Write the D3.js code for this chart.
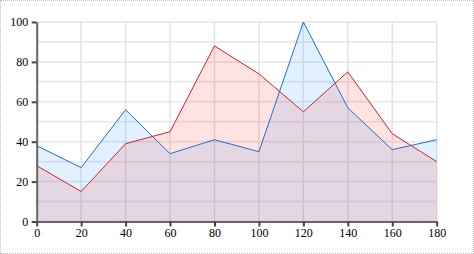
<!DOCTYPE html>
<html>
<head>
<meta charset="utf-8">
<script src="https://d3js.org/d3.v7.min.js"></script>
<style>
  body { margin: 0; background: #fff; }
  #chart { width: 472px; height: 252px; border: 1px dotted #bbb; }
  .tick text { font-family: "Liberation Serif", serif; font-size: 12px; fill: #000; }
</style>
</head>
<body>
<div id="chart"></div>
<script>
const xs = [0, 20, 40, 60, 80, 100, 120, 140, 160, 180]
const blue = [38, 27, 56, 34, 41, 35, 100, 57, 36, 41]
const red = [28, 15, 39, 45, 88, 74, 55, 75, 44, 30]
const yTicks = [0, 20, 40, 60, 80, 100]
const yGrid = [0, 10, 20, 30, 40, 50, 60, 70, 80, 90, 100]

const width = 472, height = 252
const svg = d3.select('#chart').append('svg')
    .attr('width', width)
    .attr('height', height)

const x = d3.scaleLinear().domain([0, 180]).range([35.7, 435.7])
const y = d3.scaleLinear().domain([0, 100]).range([220.5, 21])

// grid
svg.append('g').selectAll('line.h')
  .data(yGrid).enter().append('line')
    .attr('x1', x(0)).attr('x2', x(180))
    .attr('y1', d => y(d)).attr('y2', d => y(d))
    .attr('stroke', '#ebebeb').attr('stroke-width', 2)
svg.append('g').selectAll('line.v')
  .data(xs).enter().append('line')
    .attr('x1', d => x(d)).attr('x2', d => x(d))
    .attr('y1', y(0)).attr('y2', y(100))
    .attr('stroke', '#e2e2e2').attr('stroke-width', 1.5)

const pts = vals => vals.map((v, i) => [xs[i], v])
const area = d3.area().x(d => x(d[0])).y0(y(0)).y1(d => y(d[1]))
const line = d3.line().x(d => x(d[0])).y(d => y(d[1]))

const series = [
  { vals: blue, fill: 'rgba(30,144,255,0.13)', stroke: '#1e6fd0' },
  { vals: red, fill: 'rgba(255,40,40,0.13)', stroke: '#d81e2a' }
]
series.forEach(s => {
  svg.append('path').attr('d', area(pts(s.vals))).attr('fill', s.fill)
})
series.forEach(s => {
  svg.append('path').attr('d', line(pts(s.vals)))
    .attr('fill', 'none').attr('stroke', s.stroke).attr('stroke-width', 1)
})

// axes
const xAxis = svg.append('g')
    .attr('transform', `translate(0,${y(0)})`)
    .call(d3.axisBottom(x).tickValues(xs).tickSize(5).tickSizeOuter(0).tickPadding(2))
const yAxis = svg.append('g')
    .attr('transform', `translate(${x(0)},0)`)
    .call(d3.axisLeft(y).tickValues(yTicks).tickSize(5).tickSizeOuter(0).tickPadding(3.5))

;[xAxis, yAxis].forEach(g => {
  g.select('.domain').attr('stroke', '#666').attr('stroke-width', 2)
  g.selectAll('.tick line').attr('stroke', '#444').attr('stroke-width', 2)
})
</script>
</body>
</html>
